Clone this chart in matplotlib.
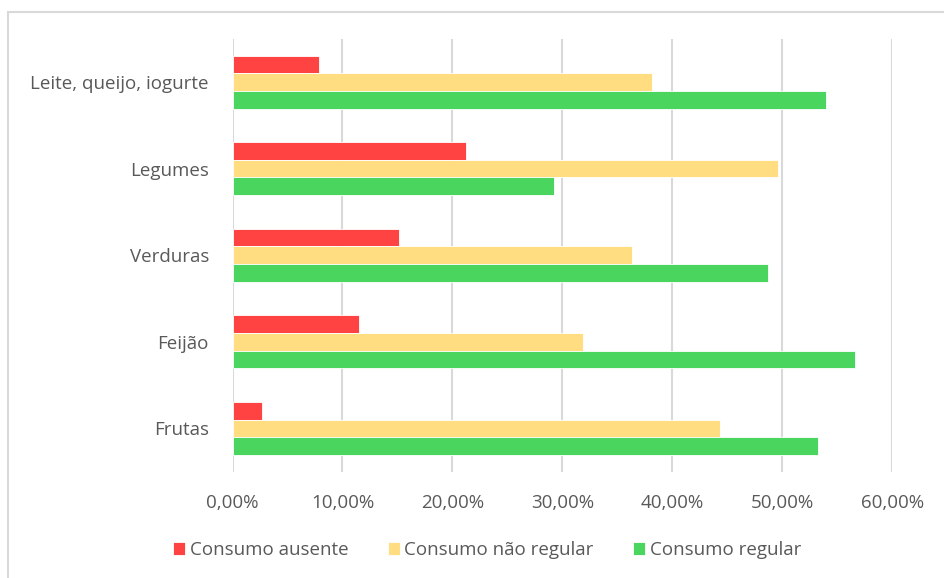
import matplotlib

matplotlib.use("Agg")
import matplotlib.pyplot as plt  # noqa: E402
import numpy as np  # noqa: E402
from matplotlib.patches import Rectangle  # noqa: E402

# food groups, bottom to top as drawn
categories = ["Frutas", "Feijão", "Verduras", "Legumes", "Leite, queijo, iogurte"]
ausente = [2.7, 11.5, 15.1, 21.2, 7.9]
nao_regular = [44.3, 31.9, 36.3, 49.6, 38.1]
regular = [53.2, 56.6, 48.7, 29.2, 54.0]
series_names = ["Consumo ausente", "Consumo não regular", "Consumo regular"]
xticks = [0, 10, 20, 30, 40, 50, 60]

RED = "#FF4343"
YELLOW = "#FFDD80"
GREEN = "#4AD65E"
TEXT = "#595959"

plt.rcParams["font.family"] = ["Open Sans", "DejaVu Sans"]
FS = 13.5

fig = plt.figure(figsize=(9.44, 5.78), dpi=100)
ax = fig.add_axes([0.2463, 0.1839, 0.699, 0.7491])

y = np.arange(len(categories))
h = 0.204
ax.barh(y + h, ausente, h, color=RED, edgecolor="white", lw=0.6, label=series_names[0], zorder=3)
ax.barh(y, nao_regular, h, color=YELLOW, edgecolor="white", lw=0.6, label=series_names[1], zorder=3)
ax.barh(y - h, regular, h, color=GREEN, edgecolor="white", lw=0.6, label=series_names[2], zorder=3)

ax.set_xlim(0, 60)
ax.set_ylim(-0.5, len(categories) - 0.5)
ax.set_xticks(xticks)
ax.set_xticklabels([f"{v:.2f}%".replace(".", ",") for v in xticks])
ax.set_yticks(y)
ax.set_yticklabels(categories)
ax.tick_params(axis="x", length=0, pad=16, labelsize=FS, labelcolor=TEXT)
ax.tick_params(axis="y", length=0, pad=17, labelsize=FS, labelcolor=TEXT)
ax.grid(axis="x", color="#D9D9D9", lw=1.5, zorder=0)
for s in ax.spines.values():
    s.set_visible(False)

leg = fig.legend(loc="center", bbox_to_anchor=(0.516, 0.048), ncol=3, frameon=False,
                 fontsize=FS, handlelength=0.65, handleheight=0.65, handletextpad=0.25,
                 columnspacing=2.1)
for t in leg.get_texts():
    t.set_color(TEXT)

# chart area border
fig.patches.append(Rectangle((8 / 944, -0.1), 1.2, 1 - 12 / 578 + 0.1, transform=fig.transFigure,
                             fill=False, edgecolor="#D9D9D9", lw=1.5))

fig.savefig("out.png", dpi=100)
